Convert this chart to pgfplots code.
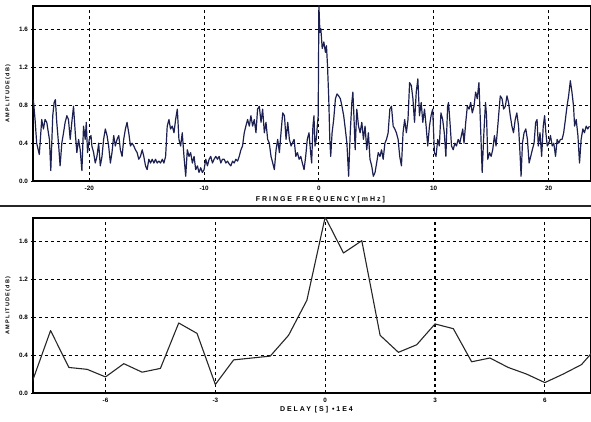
\documentclass[border=0pt]{standalone}
\usepackage{pgfplots}
\pgfplotsset{compat=1.18}
\usepackage{pgfplotstable}
\usepackage{fontspec}
\setmainfont{Liberation Sans}
\newfontfamily\lblfont[LetterSpace=28]{Liberation Sans}
\newfontfamily\ylblfont[LetterSpace=22]{Liberation Sans}
\definecolor{trace}{HTML}{1C2050}

\pgfplotstableread{
f a
-24.87 0.86
-24.72 0.65
-24.58 0.40
-24.35 0.28
-24.14 0.65
-23.99 0.55
-23.85 0.65
-23.70 0.62
-23.47 0.44
-23.35 0.11
-23.18 0.69
-23.06 0.83
-22.95 0.86
-22.83 0.62
-22.68 0.40
-22.54 0.16
-22.39 0.40
-22.24 0.51
-22.10 0.62
-21.95 0.69
-21.81 0.65
-21.66 0.44
-21.52 0.62
-21.37 0.79
-21.22 0.51
-21.08 0.30
-20.93 0.44
-20.79 0.33
-20.64 0.11
-20.50 0.58
-20.35 0.44
-20.26 0.62
-20.15 0.30
-20.00 0.44
-19.85 0.48
-19.77 0.37
-19.62 0.30
-19.48 0.19
-19.33 0.26
-19.18 0.40
-19.04 0.16
-18.89 0.26
-18.75 0.44
-18.60 0.55
-18.45 0.48
-18.31 0.37
-18.16 0.19
-18.02 0.30
-17.87 0.48
-17.73 0.37
-17.58 0.44
-17.43 0.48
-17.29 0.33
-17.14 0.26
-17.00 0.44
-16.85 0.55
-16.71 0.62
-16.56 0.51
-16.41 0.37
-16.27 0.40
-16.12 0.37
-15.98 0.33
-15.83 0.30
-15.69 0.23
-15.54 0.26
-15.39 0.33
-15.25 0.26
-15.10 0.16
-14.96 0.12
-14.81 0.23
-14.66 0.19
-14.52 0.23
-14.37 0.19
-14.23 0.23
-14.08 0.19
-13.94 0.21
-13.79 0.19
-13.64 0.23
-13.50 0.19
-13.35 0.26
-13.21 0.58
-13.06 0.65
-12.92 0.55
-12.77 0.58
-12.62 0.51
-12.48 0.65
-12.33 0.76
-12.19 0.44
-12.04 0.37
-11.90 0.51
-11.75 0.26
-11.60 0.05
-11.46 0.33
-11.31 0.26
-11.17 0.30
-11.02 0.19
-10.87 0.26
-10.73 0.12
-10.58 0.16
-10.44 0.09
-10.29 0.14
-10.15 0.09
-10.00 0.12
-9.85 0.23
-9.71 0.16
-9.56 0.23
-9.42 0.26
-9.27 0.19
-9.13 0.23
-8.98 0.26
-8.83 0.23
-8.69 0.26
-8.54 0.19
-8.40 0.23
-8.25 0.23
-8.10 0.19
-7.96 0.21
-7.81 0.18
-7.67 0.16
-7.52 0.21
-7.38 0.19
-7.23 0.23
-7.08 0.21
-6.94 0.26
-6.79 0.33
-6.65 0.37
-6.50 0.51
-6.36 0.58
-6.21 0.65
-6.06 0.58
-5.92 0.69
-5.77 0.58
-5.63 0.65
-5.48 0.51
-5.34 0.76
-5.19 0.79
-5.04 0.62
-4.90 0.76
-4.75 0.51
-4.61 0.62
-4.46 0.44
-4.32 0.40
-4.17 0.26
-4.02 0.19
-3.88 0.12
-3.73 0.33
-3.59 0.44
-3.44 0.30
-3.30 0.51
-3.15 0.72
-3.00 0.69
-2.86 0.44
-2.71 0.62
-2.57 0.44
-2.42 0.37
-2.16 0.44
-2.01 0.26
-1.87 0.30
-1.72 0.23
-1.58 0.26
-1.44 0.19
-1.29 0.12
-1.15 0.26
-1.01 0.44
-0.86 0.51
-0.72 0.30
-0.63 0.19
-0.52 0.58
-0.43 0.69
-0.34 0.37
-0.23 0.44
-0.14 0.58
-0.06 0.69
0.00 1.86
0.09 1.57
0.17 1.61
0.29 1.40
0.43 1.47
0.57 1.36
0.66 1.43
0.75 1.22
0.86 0.87
0.95 0.44
1.03 0.26
1.15 0.51
1.29 0.65
1.44 0.87
1.58 0.92
1.72 0.90
1.87 0.87
2.01 0.79
2.16 0.69
2.30 0.55
2.44 0.40
2.59 0.05
2.73 0.51
2.87 0.83
2.96 0.94
3.05 0.69
3.16 0.33
3.30 0.76
3.45 0.58
3.59 0.51
3.74 0.62
3.88 0.44
4.02 0.58
4.17 0.33
4.31 0.51
4.45 0.23
4.60 0.16
4.74 0.05
4.89 0.09
5.03 0.19
5.17 0.30
5.32 0.26
5.46 0.33
5.60 0.23
5.75 0.40
5.89 0.44
6.03 0.51
6.18 0.76
6.32 0.79
6.47 0.58
6.61 0.55
6.75 0.51
6.90 0.44
7.04 0.26
7.19 0.16
7.33 0.51
7.47 0.65
7.62 0.51
7.76 0.65
7.90 1.04
8.05 1.01
8.19 0.87
8.33 0.62
8.48 0.94
8.62 1.08
8.76 0.69
8.91 0.83
9.05 0.62
9.20 0.76
9.34 0.58
9.48 0.37
9.63 0.58
9.77 0.69
9.91 0.76
10.06 0.30
10.20 0.26
10.35 0.44
10.49 0.37
10.63 0.72
10.78 0.65
10.92 0.51
11.06 0.26
11.21 0.79
11.29 0.83
11.44 0.58
11.55 0.37
11.70 0.33
11.84 0.40
11.98 0.37
12.13 0.44
12.27 0.40
12.41 0.48
12.53 0.55
12.64 0.40
12.79 0.62
12.93 0.79
13.08 0.76
13.22 0.83
13.36 0.72
13.51 0.79
13.65 0.94
13.79 0.87
13.94 1.04
14.08 0.58
14.22 0.09
14.37 0.51
14.51 0.83
14.60 0.69
14.71 0.23
14.86 0.30
15.00 0.26
15.14 0.33
15.29 0.48
15.43 0.37
15.58 0.58
15.72 0.79
15.80 0.90
15.95 0.87
16.09 0.76
16.24 0.79
16.38 0.90
16.52 0.83
16.67 0.69
16.81 0.58
16.95 0.51
17.10 0.65
17.24 0.72
17.39 0.58
17.53 0.26
17.61 0.05
17.73 0.40
17.87 0.51
18.02 0.55
18.16 0.44
18.31 0.19
18.45 0.26
18.59 0.33
18.74 0.40
18.88 0.62
19.00 0.65
19.11 0.37
19.26 0.51
19.40 0.26
19.54 0.58
19.66 0.69
19.77 0.51
19.89 0.37
20.03 0.40
20.17 0.48
20.32 0.37
20.46 0.40
20.61 0.26
20.75 0.44
20.89 0.40
21.04 0.44
21.18 0.44
21.32 0.51
21.47 0.65
21.61 0.79
21.75 0.90
21.90 1.06
22.04 0.94
22.18 0.79
22.27 0.58
22.41 0.65
22.56 0.48
22.70 0.19
22.84 0.44
22.99 0.55
23.13 0.51
23.28 0.58
23.42 0.55
23.56 0.58
}\fringe

\pgfplotstableread{
d a
-8.0 0.12
-7.5 0.66
-7.0 0.27
-6.5 0.25
-6.0 0.17
-5.5 0.31
-5.0 0.22
-4.5 0.26
-4.0 0.74
-3.5 0.63
-3.0 0.09
-2.5 0.35
-2.0 0.37
-1.5 0.39
-1.0 0.61
-0.5 0.98
0.0 1.86
0.5 1.48
1.0 1.61
1.5 0.61
2.0 0.43
2.5 0.51
3.0 0.73
3.5 0.68
4.0 0.33
4.5 0.37
5.0 0.27
5.5 0.20
6.0 0.11
6.5 0.20
7.0 0.30
7.5 0.52
}\delay

\pgfplotsset{
  panel/.style={
    scale only axis, width=558pt, height=175pt, anchor=south west,
    ymin=0, ymax=1.85,
    ytick={0,0.4,0.8,1.2,1.6},
    yticklabel style={/pgf/number format/fixed,/pgf/number format/fixed zerofill,/pgf/number format/precision=1},
    /pgf/number format/assume math mode=true,
    ticklabel style={font=\fontsize{6.3}{6.3}\selectfont\bfseries},
    grid=major,
    major grid style={black, line width=1.1pt, dash pattern=on 3pt off 3pt},
    axis line style={black, line width=1.3pt},
    major tick style={black, line width=0.8pt},
    major tick length=3pt,
    minor tick length=2pt,
    minor tick style={black, line width=0.8pt},
    tick align=center,
    xtick pos=bottom, ytick pos=left,
    clip=true,
    ylabel={\ylblfont\fontsize{5.5}{5.5}\selectfont\bfseries AMPLITUDE(dB)},
    ylabel style={at={(axis description cs:-0.045,0.5)}, anchor=center},
  }
}

\begin{document}
\begin{tikzpicture}[x=1pt,y=1pt]
\useasboundingbox (0,0) rectangle (591,422);
\begin{axis}[panel, at={(33pt,241pt)},
  xmin=-24.9, xmax=23.7,
  xtick={-20,-10,0,10,20},
  minor x tick num=9,
  xlabel={\lblfont\fontsize{7}{7}\selectfont\bfseries FRINGE FREQUENCY[mHz]},
  xlabel style={at={(axis description cs:0.515,0)}, anchor=center, yshift=-19pt},
]
\addplot[trace, line width=1.2pt, line join=round] table[x=f,y=a] {\fringe};
\end{axis}
\draw[line width=2pt, black!85] (0,216) -- (591,216);
\begin{axis}[panel, at={(33pt,29pt)},
  xmin=-7.98, xmax=7.26,
  xtick={-6,-3,0,3,6},
  xlabel={\lblfont\fontsize{7}{7}\selectfont\bfseries DELAY [S] \textbullet 1E4},
  xlabel style={at={(axis description cs:0.508,0)}, anchor=center, yshift=-17pt},
]
\addplot[black!85, line width=1.1pt, line join=round] table[x=d,y=a] {\delay};
\end{axis}
\end{tikzpicture}
\end{document}
